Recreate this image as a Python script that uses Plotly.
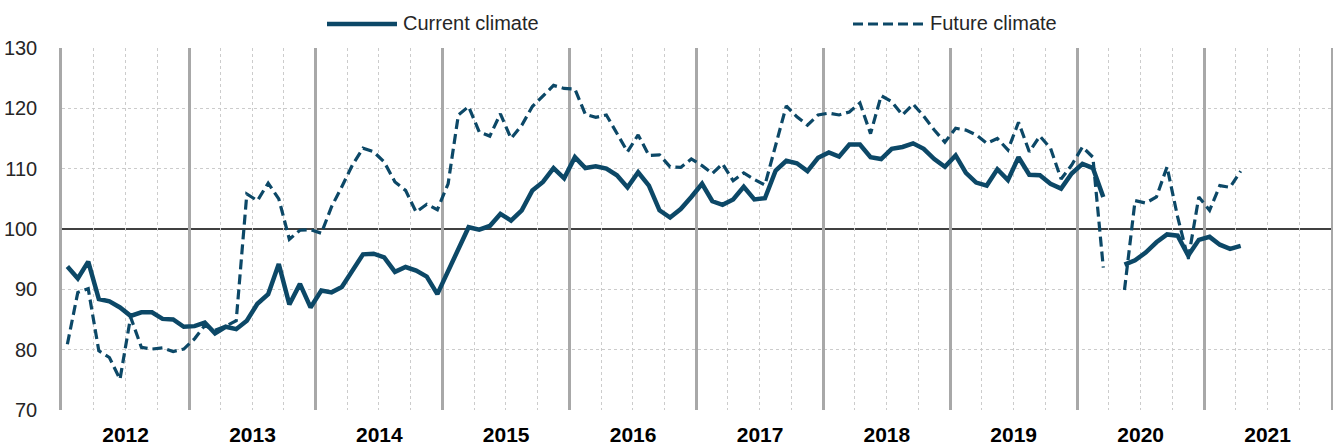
import pandas as pd
import plotly.graph_objects as go

# Monthly index values, Jan 2012 - Apr 2021 (None = missing month)
current_climate = [
    93.8, 91.8, 94.6, 88.4, 88.0, 87.0, 85.6, 86.2, 86.2, 85.1, 85.0, 83.8,
    83.9, 84.5, 82.7, 83.8, 83.4, 84.8, 87.6, 89.2, 94.2, 87.5, 90.9, 87.0,
    89.8, 89.5, 90.4, 93.1, 95.8, 95.9, 95.3, 92.9, 93.7, 93.1, 92.1, 89.2,
    92.9, 96.5, 100.3, 99.9, 100.5, 102.5, 101.4, 103.1, 106.4, 107.8, 110.1, 108.4,
    111.9, 110.1, 110.4, 110.0, 108.9, 106.9, 109.4, 107.2, 103.1, 101.9, 103.3, 105.3,
    107.5, 104.6, 104.0, 104.9, 107.0, 104.9, 105.1, 109.7, 111.3, 110.9, 109.6, 111.8,
    112.7, 112.0, 114.0, 114.0, 111.9, 111.6, 113.3, 113.6, 114.2, 113.3, 111.6, 110.3,
    112.2, 109.3, 107.7, 107.2, 109.9, 108.1, 111.9, 109.0, 108.9, 107.5, 106.7, 109.2,
    110.8, 110.1, 105.3, None, 94.1, 94.8, 96.1, 97.8, 99.1, 98.9, 95.6, 98.2,
    98.7, 97.4, 96.7, 97.2,
]
future_climate = [
    80.9, 89.5, 90.1, 79.8, 78.7, 75.1, 85.4, 80.4, 80.1, 80.3, 79.7, 80.1,
    81.8, 84.0, 83.2, 83.9, 84.8, 105.8, 104.7, 107.6, 105.0, 98.3, 99.8, 99.9,
    99.3, 103.7, 107.0, 110.6, 113.4, 112.8, 111.1, 107.8, 106.4, 102.8, 104.1, 103.2,
    107.5, 118.9, 120.3, 116.1, 115.4, 119.1, 115.0, 117.2, 120.3, 122.0, 123.8, 123.3,
    123.2, 119.0, 118.5, 118.9, 115.8, 112.8, 115.6, 112.2, 112.3, 110.3, 110.2, 111.6,
    110.5, 109.2, 110.8, 108.0, 109.3, 108.2, 107.3, 113.8, 120.4, 118.6, 117.2, 118.9,
    119.2, 118.9, 119.4, 120.9, 115.8, 122.1, 121.1, 118.9, 120.7, 118.7, 116.4, 114.4,
    116.7, 116.4, 115.6, 114.2, 115.0, 113.1, 117.7, 112.8, 115.4, 113.4, 108.3, 110.6,
    113.6, 111.9, 93.6, None, 89.9, 104.7, 104.3, 105.3, 110.3, 102.0, 95.0, 105.3,
    103.1, 107.2, 106.9, 109.6,
]
months = pd.date_range("2012-01-01", periods=len(current_climate), freq="MS")
series_names = ["Current climate", "Future climate"]
y_ticks = [70, 80, 90, 100, 110, 120, 130]
y_grid = [70, 80, 90, 110, 120, 130]
baseline = 100

LINE = "#0C4867"
FONT = "Liberation Sans, Arial, sans-serif"
TXT = "#262626"

W, H = 1333, 446
L, R, T, B = 62, 2, 48, 36
PW, PH = W - L - R, H - T - B


def px_x(px):
    return (px - L) / PW


def px_y(py):
    return (T + PH - py) / PH


fig = go.Figure()
fig.add_trace(go.Scatter(
    x=months, y=future_climate, name=series_names[1], mode="lines",
    line=dict(color=LINE, width=3.2, dash="10px,5px"),
    xperiod="M1", xperiodalignment="middle", connectgaps=False,
))
fig.add_trace(go.Scatter(
    x=months, y=current_climate, name=series_names[0], mode="lines",
    line=dict(color=LINE, width=4.5),
    xperiod="M1", xperiodalignment="middle", connectgaps=False,
))

# reference line at 100
fig.add_shape(type="line", xref="paper", x0=0, x1=1, yref="y", y0=baseline, y1=baseline,
              line=dict(color="black", width=1.6), layer="below")

# manual legend
leg_y = px_y(24)
fig.add_shape(type="line", xref="paper", yref="paper",
              x0=px_x(327), x1=px_x(397), y0=leg_y, y1=leg_y,
              line=dict(color=LINE, width=4.5))
fig.add_shape(type="line", xref="paper", yref="paper",
              x0=px_x(853), x1=px_x(925), y0=leg_y, y1=leg_y,
              line=dict(color=LINE, width=3.2, dash="10px,5px"))
fig.add_annotation(text=series_names[0], xref="paper", yref="paper",
                   x=px_x(401), y=px_y(23), xanchor="left", yanchor="middle",
                   showarrow=False, font=dict(family=FONT, size=20, color=TXT))
fig.add_annotation(text=series_names[1], xref="paper", yref="paper",
                   x=px_x(928), y=px_y(23), xanchor="left", yanchor="middle",
                   showarrow=False, font=dict(family=FONT, size=20, color=TXT))

fig.update_layout(
    width=W, height=H,
    margin=dict(l=L, r=R, t=T, b=B, pad=0, autoexpand=False),
    paper_bgcolor="white", plot_bgcolor="white",
    showlegend=False,
    font=dict(family=FONT, color=TXT),
    xaxis=dict(
        type="date", range=["2012-01-01", "2022-01-01"], automargin=False,
        tick0="2012-01-01", dtick="M12", tickformat="%Y", ticklabelmode="period",
        showgrid=True, gridcolor="#a8a8a8", gridwidth=2.5,
        minor=dict(dtick="M3", tick0="2012-01-01", showgrid=True,
                   gridcolor="#cccccc", griddash="dot", gridwidth=1),
        ticks="", showline=False, zeroline=False,
        tickfont=dict(family=FONT, size=21, color="black", weight="bold"),
        ticklabelstandoff=10,
    ),
    yaxis=dict(
        range=[70, 130], tickvals=y_ticks, automargin=False,
        showgrid=False,
        minor=dict(tickvals=y_grid, showgrid=True, gridcolor="#cccccc",
                   griddash="dot", gridwidth=1, ticks=""),
        showline=True, linecolor="#a8a8a8", linewidth=2.5, mirror=True,
        zeroline=False, ticks="",
        tickfont=dict(family=FONT, size=20, color=TXT),
        ticklabelstandoff=18,
    ),
)

fig.write_html("out.html", config={"displayModeBar": False},
               post_script="document.body.style.margin='0';")
